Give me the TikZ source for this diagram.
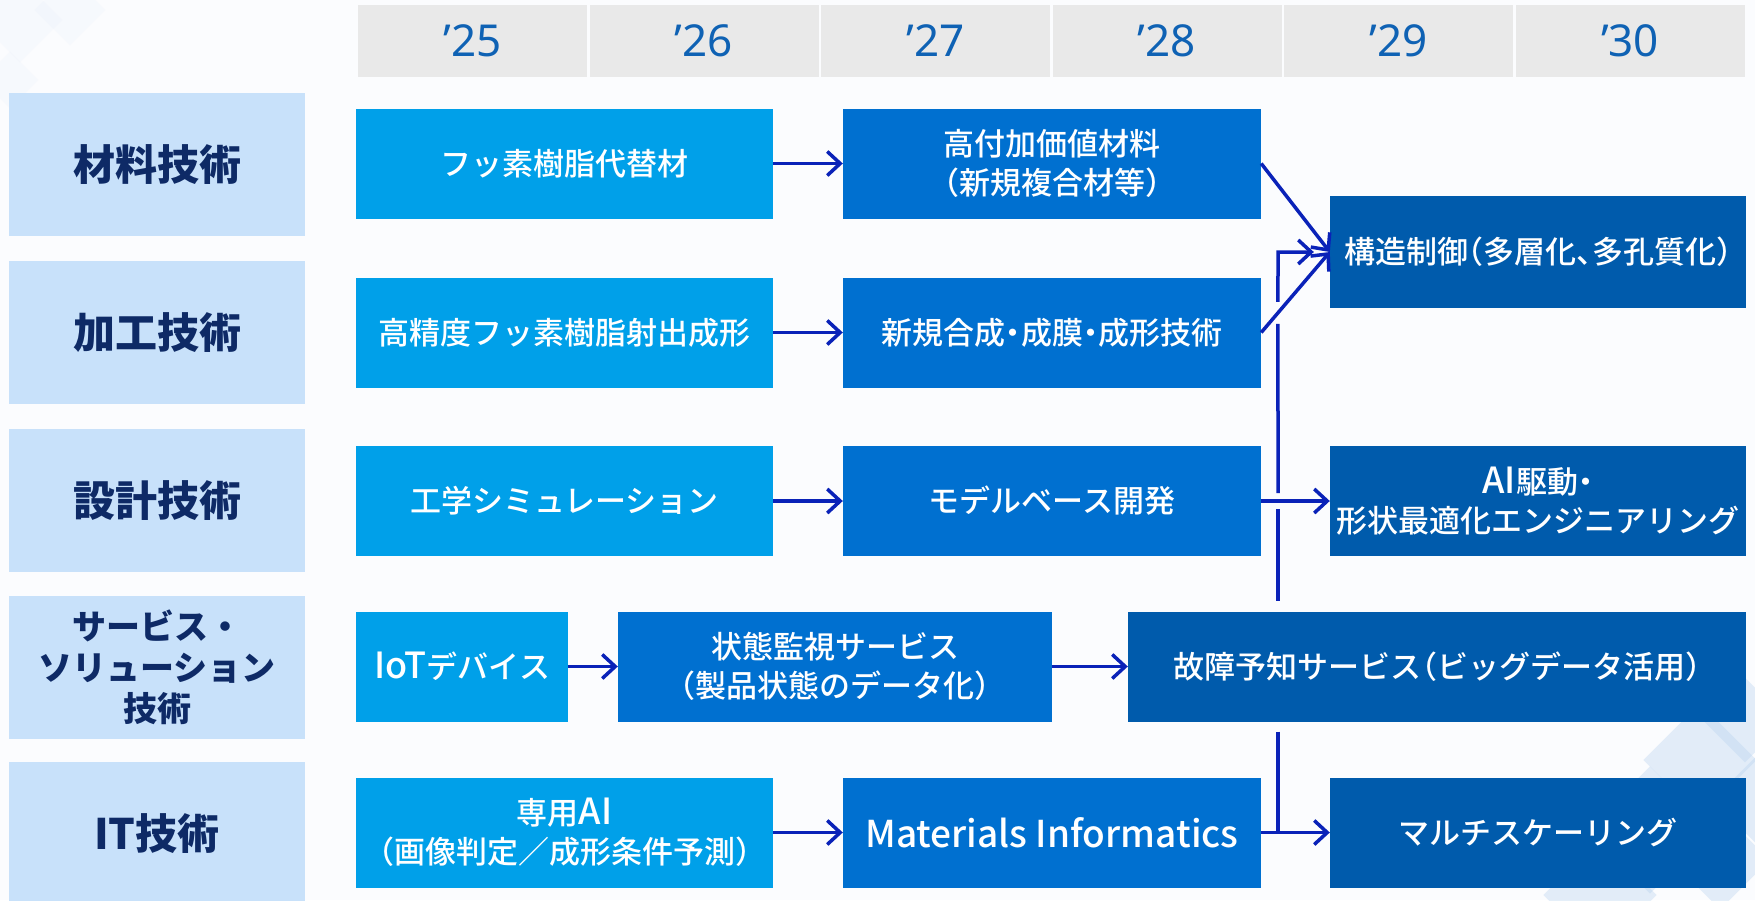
\documentclass[tikz,border=0pt]{standalone}
\usepackage{fontspec}
\setmainfont{Noto Sans CJK JP}
\newfontfamily\medfont{Noto Sans CJK JP Medium}[RawFeature=+halt]
\newfontfamily\latinfont{Noto Sans}
\newcommand\latn[1]{{\fontsize{36}{39}\selectfont #1}}
\usetikzlibrary{arrows.meta,calc}
\definecolor{bgc}{HTML}{FBFCFE}
\definecolor{hdrfill}{HTML}{E9E9E9}
\definecolor{hdrtext}{HTML}{0F62B4}
\definecolor{rowfill}{HTML}{C8E1FA}
\definecolor{rowtext}{HTML}{0E2A66}
\definecolor{lightbox}{HTML}{00A0E9}
\definecolor{midbox}{HTML}{0070D0}
\definecolor{darkbox}{HTML}{005BAC}
\definecolor{arrc}{HTML}{0A22B8}
\definecolor{deco}{HTML}{B5D1EF}
\tikzset{
  hdr/.style={fill=hdrfill, minimum width=229pt, minimum height=72pt, inner sep=0pt,
    text=hdrtext, font=\latinfont\fontsize{44}{50}\selectfont},
  rowlab/.style={fill=rowfill, minimum width=296pt, minimum height=143pt, inner sep=0pt,
    text=rowtext, align=center, font=\bfseries\fontsize{42}{50}\selectfont},
  tbox/.style={minimum height=110pt, inner sep=0pt, text=white, align=center,
    font=\medfont\fontsize{31}{39}\selectfont},
  lbox/.style={tbox, fill=lightbox},
  mbox/.style={tbox, fill=midbox},
  dbox/.style={tbox, fill=darkbox},
  lin/.style={draw=arrc, line width=3.5pt},
  conn/.style={lin, -{Straight Barb[length=13pt,width=24pt]}}
}
\begin{document}
\begin{tikzpicture}[x=1pt,y=-1pt]
\useasboundingbox (0,0) rectangle (1755,900);
\fill[bgc] (0,0) rectangle (1755,900);
% faint background decoration
\begin{scope}[opacity=0.35]
  \foreach \cx/\cy/\s in {1700/760/40,1745/720/30,1650/830/45,1720/860/35,1600/895/40,1755/800/30,1680/690/22}
    \fill[deco, rotate around={45:(\cx,\cy)}] (\cx-\s,\cy-\s) rectangle (\cx+\s,\cy+\s);
\end{scope}
\begin{scope}[opacity=0.06]
  \foreach \cx/\cy/\s in {20/20/30,70/10/25,10/80/20}
    \fill[deco, rotate around={45:(\cx,\cy)}] (\cx-\s,\cy-\s) rectangle (\cx+\s,\cy+\s);
\end{scope}

% header
\node[hdr] (y25) at (472.5,41) {’25};
\node[hdr] (y26) at (704,41) {’26};
\node[hdr] (y27) at (935.5,41) {’27};
\node[hdr] (y28) at (1167,41) {’28};
\node[hdr] (y29) at (1398.5,41) {’29};
\node[hdr] (y30) at (1630,41) {’30};

% row labels
\node[rowlab] (r1) at (157,164.5) {材料技術};
\node[rowlab] (r2) at (157,332.5) {加工技術};
\node[rowlab] (r3) at (157,500.5) {設計技術};
\node[rowlab, font=\bfseries\fontsize{34}{41}\selectfont] (r4) at (157,667.5) {サービス・\\ソリューション\\技術};
\node[rowlab] (r5) at (157,833.5) {IT技術};

% row 1
\node[lbox, minimum width=417pt] (f1) at (564.5,163.5) {フッ素樹脂代替材};
\node[mbox, minimum width=418pt] (f2) at (1052,163.5) {高付加価値材料\\（新規複合材等）};
\node[dbox, minimum width=416pt, minimum height=112pt] (kozo) at (1538,252) {構造制御（多層化、多孔質化）};
% row 2
\node[lbox, minimum width=417pt] (k1) at (564.5,332.5) {高精度フッ素樹脂射出成形};
\node[mbox, minimum width=418pt] (k2) at (1052,332.5) {新規合成・成膜・成形技術};
% row 3
\node[lbox, minimum width=417pt] (s1) at (564.5,501) {工学シミュレーション};
\node[mbox, minimum width=418pt] (s2) at (1052,501) {モデルベース開発};
\node[dbox, minimum width=416pt] (s3) at (1538,501) {\latn{AI}駆動・\\形状最適化エンジニアリング};
% row 4
\node[lbox, minimum width=212pt] (v1) at (462,666.5) {\latn{IoT}デバイス};
\node[mbox, minimum width=434pt] (v2) at (835,666.5) {状態監視サービス\\（製品状態のデータ化）};
\node[dbox, minimum width=618pt] (kosho) at (1437,666.5) {故障予知サービス（ビッグデータ活用）};
% row 5
\node[lbox, minimum width=417pt] (i1) at (564.5,832.5) {専用\latn{AI}\\（画像判定／成形条件予測）};
\node[mbox, minimum width=418pt] (i2) at (1052,832.5) {\fontsize{37}{39}\selectfont Materials Informatics};
\node[dbox, minimum width=416pt] (i3) at (1538,832.5) {マルチスケーリング};

% straight connectors
\draw[conn] (f1) -- (f2);
\draw[conn] (k1) -- (k2);
\draw[conn] (s1) -- (s2);
\draw[conn] (v1) -- (v2);
\draw[conn] (v2) -- (kosho);
\draw[conn] (i1) -- (i2);
\draw[conn] (i2) -- (i3);
\draw[conn] (s2) -- (s3);

% diagonals into structure control
\draw[conn] (f2.east) -- (kozo.west);
\draw[conn] (k2.east) -- (kozo.west);

% vertical trunk
\coordinate (vx) at (1278,0);
\coordinate (vxb) at (1278,900);
\coordinate (cr) at (intersection of k2.east--kozo.west and vx--vxb);
\draw[conn, shorten >=16pt] ([yshift=11pt]cr) -- (vx |- kozo.west) -- (kozo.west);
\draw[lin] ([yshift=-11pt]cr) -- ([yshift=8pt]vx |- s2.east);
\draw[lin] ([yshift=-8pt]vx |- s2.east) -- ([yshift=10pt]vx |- kosho.north);
\draw[lin] ([yshift=-10pt]vx |- kosho.south) -- (vx |- i3.west);
\end{tikzpicture}
\end{document}
